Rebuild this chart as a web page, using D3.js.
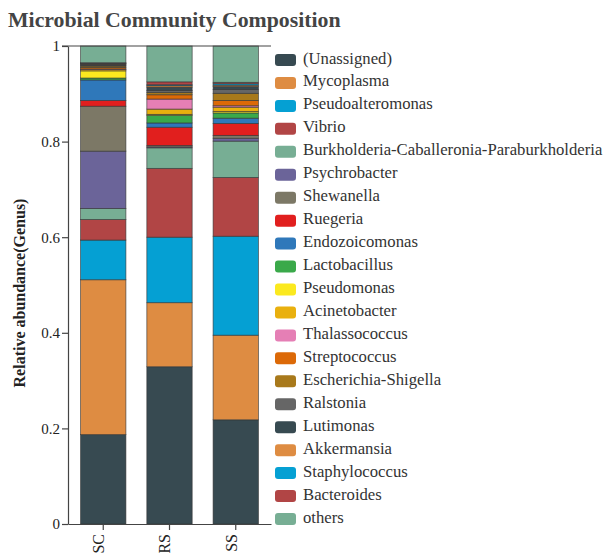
<!DOCTYPE html>
<html>
<head>
<meta charset="utf-8">
<script src="https://cdn.jsdelivr.net/npm/d3@7"></script>
<style>
  html, body { margin: 0; padding: 0; background: #fff; }
  svg { display: block; }
  svg text { font-family: "Liberation Serif", "Times New Roman", serif !important; }
</style>
</head>
<body>
<svg id="chart" width="606" height="554"></svg>
<script>
// Samples along the x axis
const groups = ["SC", "RS", "SS"];

// Genera, stacked from the bottom up (same order as the legend)
const genera = [
  "(Unassigned)", "Mycoplasma", "Pseudoalteromonas", "Vibrio",
  "Burkholderia-Caballeronia-Paraburkholderia", "Psychrobacter", "Shewanella",
  "Ruegeria", "Endozoicomonas", "Lactobacillus", "Pseudomonas", "Acinetobacter",
  "Thalassococcus", "Streptococcus", "Escherichia-Shigella", "Ralstonia",
  "Lutimonas", "Akkermansia", "Staphylococcus", "Bacteroides", "others"
];

// Relative abundance of each genus per sample
const SC = [0.187, 0.324, 0.083, 0.043, 0.023, 0.120, 0.094, 0.012, 0.043, 0.004,
            0.015, 0.003, 0.001, 0.003, 0.003, 0.002, 0.002, 0.001, 0.001, 0.001, 0.035];
const RS = [0.329, 0.134, 0.137, 0.144, 0.043, 0.002, 0.003, 0.038, 0.009, 0.016,
            0.002, 0.011, 0.021, 0.009, 0.005, 0.004, 0.007, 0.003, 0.002, 0.006, 0.075];
const SS = [0.218, 0.177, 0.207, 0.123, 0.076, 0.006, 0.006, 0.025, 0.011, 0.011,
            0.003, 0.009, 0.003, 0.011, 0.015, 0.008, 0.006, 0.003, 0.003, 0.003, 0.076];

// Colour per genus
const colors = [
  "#374a51", "#de8c42", "#05a0d3", "#b14545", "#77ae94", "#6b6499", "#7c7866",
  "#e11f1e", "#2f78ba", "#3aa94a", "#fbe91f", "#e9b00e", "#e57fb5", "#dc6907",
  "#a8791b", "#666666", "#374a51", "#de8c42", "#05a0d3", "#b14545", "#77ae94"
];

// Axis ticks
const yTicks = [0, 0.2, 0.4, 0.6, 0.8, 1];
const yTickLabels = ["0", "0.2", "0.4", "0.6", "0.8", "1"];

const svg = d3.select("#chart");

const x = d3.scaleBand().domain(groups).range([68, 271])
  .paddingInner(0.316).paddingOuter(0.19);
const y = d3.scaleLinear().domain([0, 1]).range([524, 46]);
const color = d3.scaleOrdinal().domain(genera).range(colors);

// Table: one row per sample, one column per genus
const valuesBySample = { SC, RS, SS };
const table = groups.map(g => {
  const row = { group: g };
  genera.forEach((name, i) => { row[name] = valuesBySample[g][i]; });
  return row;
});
const series = d3.stack().keys(genera)(table);

// Title
svg.append("text")
  .attr("x", 8).attr("y", 27)
  .attr("font-size", 21.8).attr("font-weight", "bold")
  .attr("fill", "#444")
  .text("Microbial Community Composition");

// Stacked bars
svg.append("g")
  .selectAll("g")
  .data(series)
  .join("g")
  .attr("fill", d => color(d.key))
  .selectAll("rect")
  .data(d => d)
  .join("rect")
  .attr("x", d => x(d.data.group))
  .attr("width", x.bandwidth())
  .attr("y", d => y(d[1]))
  .attr("height", d => y(d[0]) - y(d[1]))
  .attr("stroke", "#333")
  .attr("stroke-opacity", 0.75)
  .attr("stroke-width", 0.8);

// Frame line along the top of the plot
svg.append("line")
  .attr("x1", 62).attr("x2", 271)
  .attr("y1", y(1)).attr("y2", y(1))
  .attr("stroke", "#444").attr("stroke-width", 1.2);

// Y axis
const yAxis = svg.append("g")
  .attr("transform", "translate(68,0)")
  .call(d3.axisLeft(y).tickValues(yTicks)
    .tickFormat((d, i) => yTickLabels[i]).tickSize(6).tickSizeOuter(0));
yAxis.select(".domain").attr("stroke", "#444").attr("stroke-width", 1.2);
yAxis.selectAll(".tick line").attr("stroke", "#444").attr("stroke-width", 1.2);
yAxis.selectAll(".tick text")
  .attr("font-size", 15).attr("fill", "#222").attr("x", -8);

// X axis
const xAxis = svg.append("g")
  .attr("transform", "translate(0,524)")
  .call(d3.axisBottom(x).tickSize(6).tickSizeOuter(0));
xAxis.select(".domain").attr("stroke", "#444").attr("stroke-width", 1.2);
xAxis.selectAll(".tick line").attr("stroke", "#444").attr("stroke-width", 1.2);
xAxis.selectAll(".tick text")
  .attr("font-size", 16).attr("fill", "#222")
  .attr("transform", "rotate(-90)")
  .attr("text-anchor", "end")
  .attr("x", -10).attr("y", 0).attr("dy", "0.05em");

// Y axis title
svg.append("text")
  .attr("transform", "translate(25,293) rotate(-90)")
  .attr("text-anchor", "middle")
  .attr("font-size", 16).attr("font-weight", "bold").attr("fill", "#222")
  .text("Relative abundance(Genus)");

// Legend
const legend = svg.append("g")
  .selectAll("g")
  .data(genera)
  .join("g")
  .attr("transform", (d, i) => `translate(275,${54 + i * 22.95})`);
legend.append("rect")
  .attr("width", 21).attr("height", 12).attr("rx", 3)
  .attr("fill", d => color(d));
legend.append("text")
  .attr("x", 28).attr("y", 9.5)
  .attr("font-size", 16.7).attr("fill", "#333")
  .text(d => d);
</script>
</body>
</html>
